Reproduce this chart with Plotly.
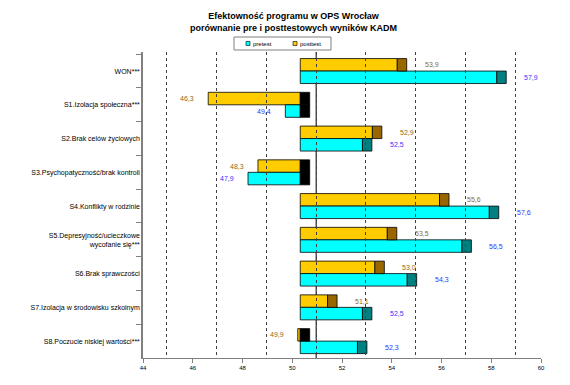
import plotly.graph_objects as go

categories = [
    "WON***",
    "S1.Izolacja społeczna***",
    "S2.Brak celów życiowych",
    "S3.Psychopatyczność/brak kontroli",
    "S4.Konflikty w rodzinie",
    "S5.Depresyjność/ucieczkowe<br>wycofanie się***",
    "S6.Brak sprawczości",
    "S7.Izolacja w środowisku szkolnym",
    "S8.Poczucie niskiej wartości***",
]
pretest = [57.9, 49.4, 52.5, 47.9, 57.6, 56.5, 54.3, 52.5, 52.3]
posttest = [53.9, 46.3, 52.9, 48.3, 55.6, 53.5, 53.0, 51.1, 49.9]
x_ticks = [44, 46, 48, 50, 52, 54, 56, 58, 60]
series_names = ["pretest", "posttest"]
BASE = 50

# The page body has an 8px default margin, so the figure is sized to fill
# the rest of the 570x385 window; positions below are in window pixels.
OFF = 8
W, H = 570 - OFF, 385 - OFF
AX_L, AX_R = 143, 541          # window x of 44 and 60 on the tick axis
PLOT_T, PLOT_B = 52, 358       # window y of plot top/bottom
GRID_DX, BAR_DX = 24, 8        # back-wall / bar-front offsets (3D look)
L = AX_L - OFF
T = PLOT_T - OFF
B = H - (PLOT_B - OFF)
R = 4
PW = W - L - R
PH = H - T - B
AXW = AX_R - AX_L
DEPTH = 0.38  # visual "3D" depth of bar ends, in axis units
FONT = "Liberation Sans, Arial, sans-serif"

C_POST, C_POST_D = "#FFCC00", "#996600"
C_PRE, C_PRE_D = "#00FFFF", "#008080"
C_POST_TXT, C_PRE_TXT = "#8c6a1a", "#3333FF"


def px(xw):
    return (xw - OFF - L) / PW


def py(yw):
    return (H - B - (yw - OFF)) / PH


fig = go.Figure()

fig.add_trace(go.Bar(
    y=categories, x=[v - BASE for v in posttest], base=BASE, orientation="h",
    offsetgroup="post", name="posttest", showlegend=False,
    marker=dict(color=C_POST, line=dict(color="black", width=0.8)),
    hoverinfo="skip"))
fig.add_trace(go.Bar(
    y=categories, x=[v - BASE for v in pretest], base=BASE, orientation="h",
    offsetgroup="pre", name="pretest", showlegend=False,
    marker=dict(color=C_PRE, line=dict(color="black", width=0.8)),
    hoverinfo="skip"))
# end faces
fig.add_trace(go.Bar(
    y=categories, x=[DEPTH] * len(posttest), base=[max(v, BASE) for v in posttest],
    orientation="h", offsetgroup="post", showlegend=False,
    marker=dict(color=[C_POST_D if v >= BASE else "black" for v in posttest],
                line=dict(color="black", width=0.8)),
    hoverinfo="skip"))
fig.add_trace(go.Bar(
    y=categories, x=[DEPTH] * len(pretest), base=[max(v, BASE) for v in pretest],
    orientation="h", offsetgroup="pre", showlegend=False,
    marker=dict(color=[C_PRE_D if v >= BASE else "black" for v in pretest],
                line=dict(color="black", width=0.8)),
    hoverinfo="skip"))

# helper invisible traces so that grid / tick axes are drawn
for ax in ("x2", "x3"):
    fig.add_trace(go.Scatter(x=[BASE], y=[categories[0]], xaxis=ax, yaxis="y",
                             mode="markers", marker=dict(opacity=0),
                             showlegend=False, hoverinfo="skip"))

BARGAP = 0.26
half = (1 - BARGAP) / 4  # center offset of each bar within group

annotations = []


def fmt(v):
    return f"{v:.1f}".replace(".", ",")


for i, (po, pr) in enumerate(zip(posttest, pretest)):
    for v, dy, col in ((po, -half, C_POST_TXT), (pr, half, C_PRE_TXT)):
        if v >= BASE:
            annotations.append(dict(x=v + DEPTH, y=i + dy, xref="x", yref="y",
                                    text=fmt(v), showarrow=False, xanchor="left",
                                    xshift=16, font=dict(size=7, color=col, family=FONT)))
        else:
            annotations.append(dict(x=v, y=i + dy, xref="x", yref="y",
                                    text=fmt(v), showarrow=False, xanchor="right",
                                    xshift=-12, font=dict(size=7, color=col, family=FONT)))

# title (kept inside the figure's top edge)
annotations.append(dict(
    text="<b>Efektowność programu w OPS Wrocław<br>porównanie pre i posttestowych wyników KADM</b>",
    x=px(293), y=py(OFF + 0.5), xref="paper", yref="paper", xanchor="center", yanchor="top",
    showarrow=False, font=dict(size=9, family=FONT, color="black")))

# legend (drawn box)
shapes = [
    dict(type="rect", xref="paper", yref="paper", x0=px(234), x1=px(331),
         y0=py(50), y1=py(37), line=dict(color="#808080", width=1),
         fillcolor="white", layer="above"),
]
legend_items = [(series_names[0], C_PRE, 246), (series_names[1], C_POST, 293)]
for name, col, x0 in legend_items:
    shapes.append(dict(type="rect", xref="paper", yref="paper", x0=px(x0), x1=px(x0 + 4),
                       y0=py(45.5), y1=py(41.5), fillcolor=col,
                       line=dict(color="black", width=0.6), layer="above"))
    annotations.append(dict(text=name, x=px(x0 + 5), y=py(43.5), xref="paper", yref="paper",
                            xanchor="left", yanchor="middle", showarrow=False,
                            font=dict(size=6, family=FONT, color="black")))

shapes.append(dict(type="line", xref="x2", yref="paper", x0=BASE, x1=BASE, y0=0, y1=1,
                   line=dict(color="black", width=1), layer="below"))

# grid axis slightly wider range so edge grid lines are drawn
G_PAD = 0.05
unit_px = AXW / 16

fig.update_layout(
    width=W, height=H,
    margin=dict(l=L, r=R, t=T, b=B, autoexpand=False),
    paper_bgcolor="white", plot_bgcolor="rgba(0,0,0,0)",
    font=dict(family=FONT, size=7, color="black"),
    barmode="group", bargap=BARGAP, bargroupgap=0,
    showlegend=False,
    xaxis=dict(domain=[BAR_DX / PW, (AXW + BAR_DX) / PW], range=[44, 60], visible=False,
               anchor="y", automargin=False),
    xaxis2=dict(domain=[(GRID_DX - G_PAD * unit_px) / PW,
                        min(1, (GRID_DX + AXW + G_PAD * unit_px) / PW)],
                range=[44 - G_PAD, 60 + G_PAD], anchor="y", tickvals=x_ticks,
                showgrid=True, gridcolor="#404040", gridwidth=1, griddash="dot",
                showticklabels=False, ticks="", showline=False, zeroline=False,
                automargin=False),
    xaxis3=dict(domain=[0, AXW / PW], range=[44, 60], anchor="y", tickvals=x_ticks,
                ticktext=[str(t) for t in x_ticks], showgrid=False, zeroline=False,
                showline=True, linecolor="#808080", linewidth=1,
                ticks="outside", ticklen=4, tickcolor="#808080",
                tickfont=dict(size=6, family=FONT), automargin=False),
    yaxis=dict(type="category", categoryorder="array", categoryarray=categories,
               autorange="reversed", anchor="x3", showgrid=False, zeroline=False,
               showline=True, linecolor="#808080", linewidth=1.5,
               ticks="outside", ticklen=5, tickcolor="#808080", tickson="boundaries",
               tickfont=dict(size=7, family=FONT), automargin=False),
    annotations=annotations,
    shapes=shapes,
)

fig.write_html("out.html")
